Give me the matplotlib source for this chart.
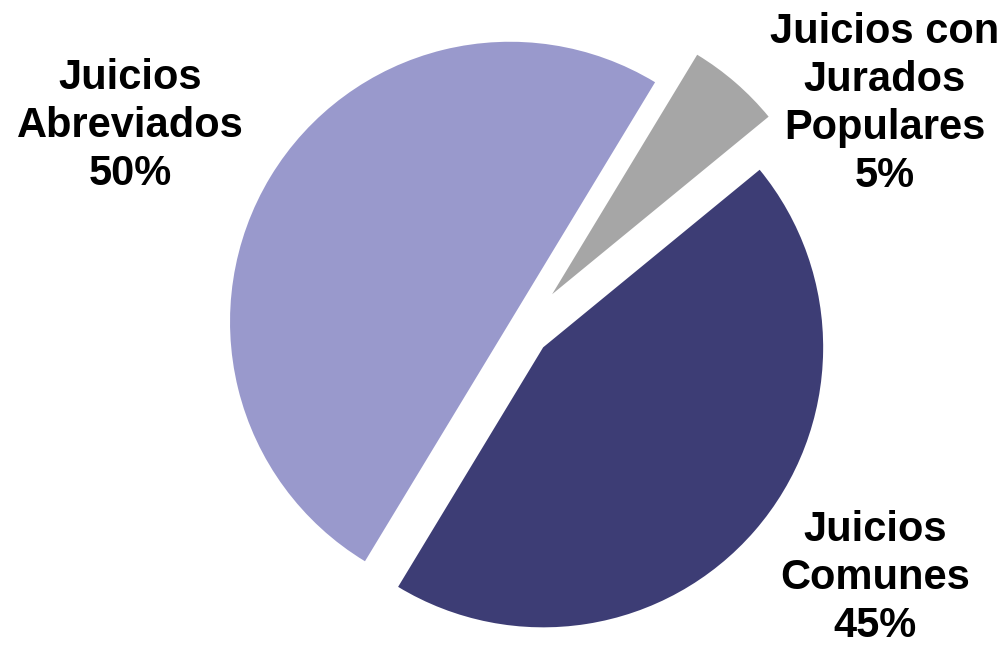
import matplotlib.pyplot as plt

# datos del grafico
categorias = ["Juicios\nAbreviados", "Juicios con\nJurados\nPopulares", "Juicios\nComunes"]
porcentajes = [50.0, 5.4, 44.6]
colores = ["#9999CC", "#A6A6A6", "#3D3D75"]

W, H = 1007, 645
fig = plt.figure(figsize=(W / 100, H / 100), dpi=100)
ax = fig.add_axes([0, 0, 1, 1])
ax.set_xlim(0, W)
ax.set_ylim(0, H)
ax.set_aspect("equal")
ax.axis("off")

# centro y radio en pixeles (y hacia arriba)
centro = (522, H - 329)
radio = 280

# explode va en unidades de datos (pixeles aqui)
ax.pie(porcentajes, colors=colores, startangle=238.8, counterclock=False,
       explode=[14, 46, 28], center=centro, radius=radio,
       wedgeprops=dict(linewidth=0))

# etiquetas
pos_etiquetas = [(130, 126), (885, 104), (875, 578)]
for cat, pct, (x, y) in zip(categorias, porcentajes, pos_etiquetas):
    ax.text(x, H - y, cat + "\n" + "%d%%" % round(pct), ha="center", va="center",
            fontsize=30, fontweight="bold", family="Liberation Sans",
            linespacing=1.25)

ax.set_xlim(0, W)
ax.set_ylim(0, H)
fig.savefig("out.png", dpi=100)
